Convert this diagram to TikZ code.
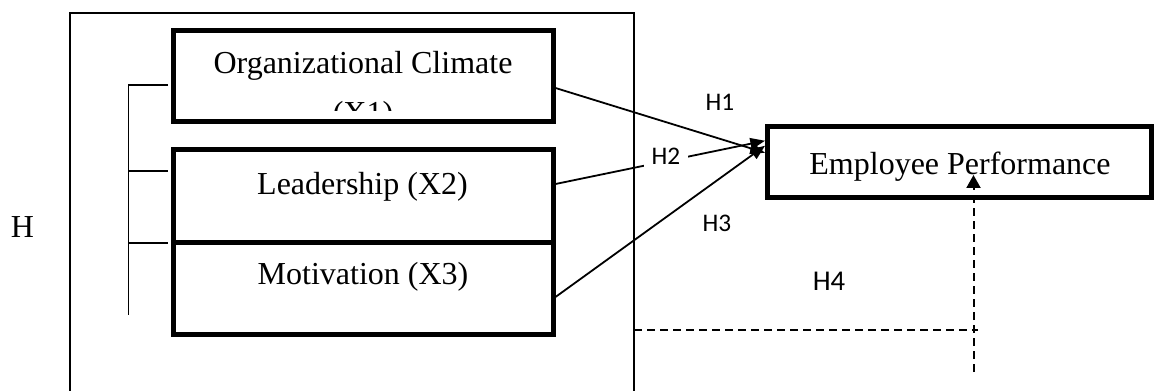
\documentclass[tikz,border=0pt]{standalone}
\usepackage{fontspec}
\setmainfont{Liberation Serif}
\newfontfamily\calib{Carlito}
\usetikzlibrary{arrows.meta,calc}
\begin{document}
\begin{tikzpicture}[x=0.75pt,y=-0.75pt,
  vbox/.style={draw,line width=3.75pt,minimum width=285pt,inner sep=0pt},
  txt/.style={font=\fontsize{24pt}{28pt}\selectfont,inner sep=0pt},
  hlab/.style={font=\calib\fontsize{19pt}{22pt}\selectfont,inner sep=0pt},
  hbig/.style={font=\calib\fontsize{21.5pt}{25pt}\selectfont,inner sep=0pt},
  conn/.style={line width=1.35pt,-{Triangle[length=11pt,width=8.5pt]}},
  dashln/.style={line width=1.5pt,dash pattern=on 6pt off 3.75pt},
  brk/.style={line width=1.1pt},
  frameln/.style={line width=1.6pt}
]
\useasboundingbox (0,0) rectangle (1155,391);

% outer frame (open at the bottom edge of the picture)
\coordinate (fbl) at (70,391);
\coordinate (ftl) at (70,13);
\coordinate (ftr) at (634,13);
\coordinate (fbr) at (634,391);
\draw[frameln] (fbl) -- (ftl) -- (ftr) -- (fbr);

% boxes
\node[vbox,minimum height=67.875pt] (b1) at (363,76.25) {};
\node[vbox,minimum height=69.75pt] (b2) at (363,196) {};
\node[vbox,minimum height=69pt] (b3) at (363,288.5) {};
\node[vbox,minimum width=287.6pt,minimum height=53.6pt] (ep) at (959.25,161.75) {};

% texts
\node[txt,anchor=base] (t1a) at (363,74) {Organizational Climate};
\begin{scope}
  \clip (180,35) rectangle (546,111);
  \node[txt,anchor=base] (t1b) at (363,124) {(X1)};
\end{scope}
\node[txt,anchor=base] (t2) at (362.5,195) {Leadership (X2)};
\node[txt,anchor=base] (t3) at (363,285) {Motivation (X3)};
\node[txt,anchor=base] (tep) at (960,175) {Employee Performance};
\node[txt,anchor=base] (hleft) at (22.5,238) {H};

% bracket
\coordinate (k1a) at (168,85);
\coordinate (k1b) at (128.5,85);
\coordinate (kend) at (128.5,315);
\coordinate (k2a) at (128.5,171);
\coordinate (k2b) at (168,171);
\coordinate (k3a) at (128.5,243);
\coordinate (k3b) at (168,243);
\draw[brk] (k1a) -- (k1b) -- (kend);
\draw[brk] (k2a) -- (k2b);
\draw[brk] (k3a) -- (k3b);

% connectors
\coordinate (s1) at ($(b1.east)+(0,11.75)$);
\coordinate (s2) at ($(b2.east)+(0,-12)$);
\coordinate (s3) at ($(b3.east)+(0,8.5)$);
\coordinate (e1) at ($(ep.west)+(0,-9)$);
\coordinate (e2) at ($(ep.west)+(0,-21)$);
\coordinate (e3) at ($(ep.west)+(0,-16)$);
\draw[conn] (s1) -- (e1);
\draw[conn] (s2) -- (e2);
\draw[conn] (s3) -- (e3);

% labels
\node[hlab] (h1) at (720,102) {H1};
\node[hlab,fill=white,inner xsep=5.6pt,inner ysep=3pt] (h2) at (666,156) {H2};
\node[hlab] (h3) at (717,223) {H3};
\node[hbig] (h4) at (829,281) {H4};

% dashed H4 path
\coordinate (d0) at (634,330);
\coordinate (d1) at (978,330);
\coordinate (v0) at (973.5,372);
\coordinate (v1) at (973.5,175);
\draw[dashln] (d0) -- (d1);
\draw[dashln,-{Triangle[length=9.75pt,width=10.5pt]}] (v0) -- (v1);
\end{tikzpicture}
\end{document}
